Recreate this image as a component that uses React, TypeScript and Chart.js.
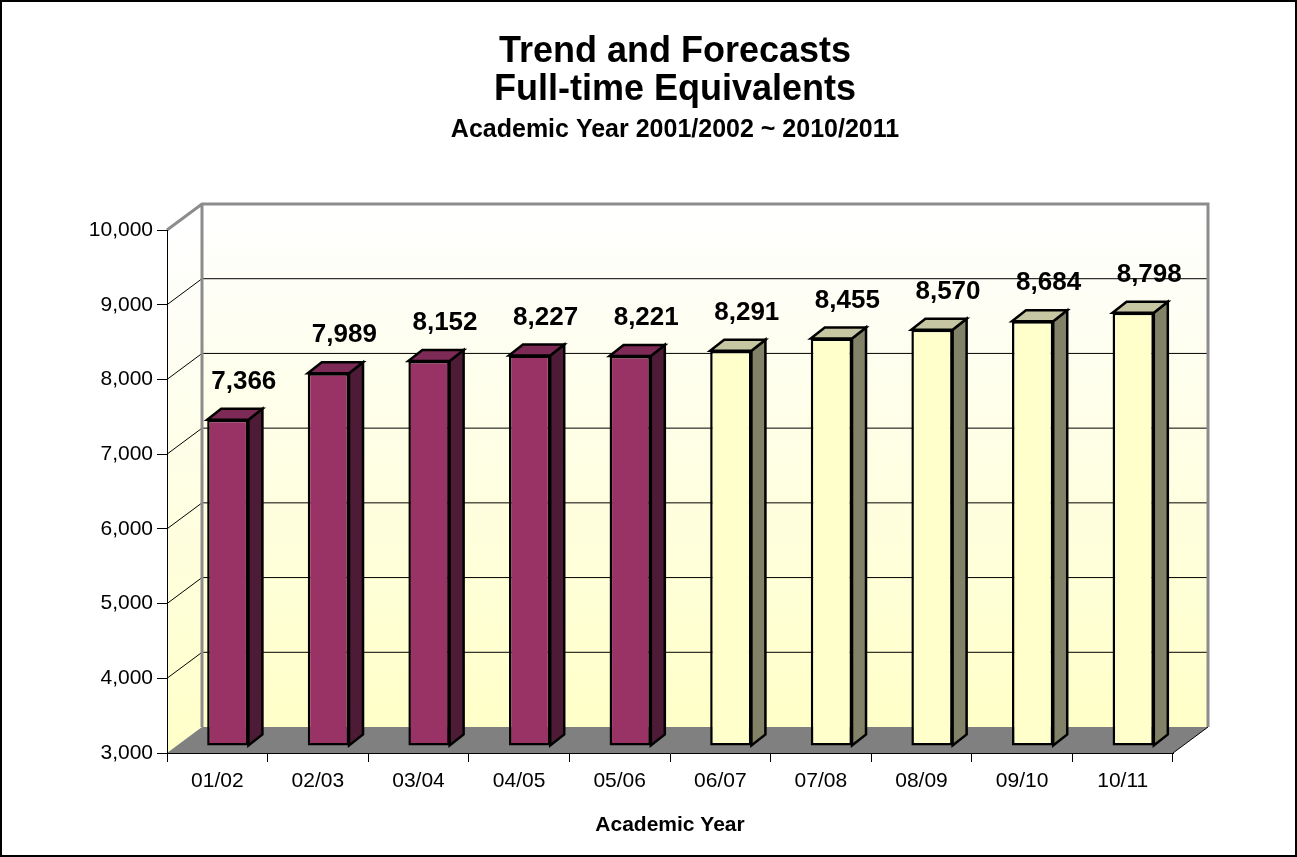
import { useEffect, useRef } from "react";
import { Chart, registerables } from "chart.js";

Chart.register(...registerables);

// ---- data ----
const categories = ["01/02", "02/03", "03/04", "04/05", "05/06", "06/07", "07/08", "08/09", "09/10", "10/11"];
const actualValues = [7366, 7989, 8152, 8227, 8221, null, null, null, null, null];
const forecastValues = [null, null, null, null, null, 8291, 8455, 8570, 8684, 8798];
const yTicks = [3000, 4000, 5000, 6000, 7000, 8000, 9000, 10000];
const titleLines = ["Trend and Forecasts", "Full-time Equivalents"];
const subtitleText = "Academic Year 2001/2002 ~ 2010/2011";
const xTitleText = "Academic Year";

// ---- styles ----
const FONT = '"Liberation Sans", Arial, Helvetica, sans-serif';
const WALL_DX = 35;
const WALL_DY = -26;
const BAR_DX = 10.5;
const BAR_DY = -7;
const DEPTH_X = 14;
const DEPTH_Y = -11;
const FRONT = ["#993366", "#FFFFCC"];
const SIDE = ["#4E1B37", "#828268"];
const TOP = ["#7D2A56", "#C6C6A2"];

const fmt = (v: number) => v.toLocaleString("en-US");

const excel3d = {
  id: "excel3d",
  beforeDraw(chart: any) {
    const { ctx, chartArea: a } = chart;
    const y = chart.scales.y;
    const L = a.left, R = a.right, T = a.top, B = a.bottom;
    const bl = L + WALL_DX, br = R + WALL_DX, bt = T + WALL_DY, bb = B + WALL_DY;
    ctx.save();
    ctx.fillStyle = "#FFFFFF";
    ctx.fillRect(0, 0, chart.width, chart.height);

    // back wall
    const g = ctx.createLinearGradient(0, bt, 0, bb);
    g.addColorStop(0, "#FFFFFF");
    g.addColorStop(0.2, "#FEFEF4");
    g.addColorStop(1, "#FFFFC8");
    ctx.fillStyle = g;
    ctx.fillRect(bl, bt, br - bl, bb - bt);

    // left wall
    const g2 = ctx.createLinearGradient(0, T, 0, B);
    g2.addColorStop(0, "#FFFFFF");
    g2.addColorStop(0.2, "#FEFEF4");
    g2.addColorStop(1, "#FFFFC8");
    ctx.fillStyle = g2;
    ctx.beginPath();
    ctx.moveTo(L, T);
    ctx.lineTo(bl, bt);
    ctx.lineTo(bl, bb);
    ctx.lineTo(L, B);
    ctx.closePath();
    ctx.fill();

    // floor
    ctx.fillStyle = "#808080";
    ctx.beginPath();
    ctx.moveTo(L, B);
    ctx.lineTo(bl, bb);
    ctx.lineTo(br, bb);
    ctx.lineTo(R, B);
    ctx.closePath();
    ctx.fill();

    // gridlines
    ctx.strokeStyle = "#000000";
    ctx.lineWidth = 1;
    for (const v of yTicks) {
      if (v <= y.min || v >= y.max) continue;
      const py = y.getPixelForValue(v);
      ctx.beginPath();
      ctx.moveTo(L, py);
      ctx.lineTo(bl, py + WALL_DY);
      ctx.lineTo(br, py + WALL_DY);
      ctx.stroke();
    }

    // wall borders
    ctx.strokeStyle = "#8C8C8C";
    ctx.lineWidth = 3;
    ctx.beginPath();
    ctx.moveTo(L, T);
    ctx.lineTo(bl, bt);
    ctx.lineTo(br, bt);
    ctx.lineTo(br, bb);
    ctx.moveTo(bl, bt);
    ctx.lineTo(bl, bb);
    ctx.stroke();

    // floor right edge
    ctx.strokeStyle = "#000000";
    ctx.lineWidth = 1;
    ctx.beginPath();
    ctx.moveTo(R, B);
    ctx.lineTo(br, bb);
    ctx.stroke();

    // titles
    ctx.fillStyle = "#000000";
    ctx.textAlign = "center";
    ctx.textBaseline = "alphabetic";
    const cx = 675;
    ctx.font = `bold 36px ${FONT}`;
    ctx.fillText(titleLines[0], cx, 62);
    ctx.fillText(titleLines[1], cx, 100);
    ctx.font = `bold 25px ${FONT}`;
    ctx.fillText(subtitleText, cx, 137);
    ctx.font = `bold 21px ${FONT}`;
    ctx.fillText(xTitleText, (L + R) / 2, 831);

    // outer frame
    ctx.strokeStyle = "#000000";
    ctx.lineWidth = 2;
    ctx.strokeRect(1, 1, chart.width - 2, chart.height - 2);
    ctx.restore();
  },
  beforeDatasetsDraw(chart: any) {
    chart.ctx.save();
    chart.ctx.translate(BAR_DX, BAR_DY);
  },
  afterDatasetsDraw(chart: any) {
    const ctx = chart.ctx;
    chart.data.datasets.forEach((ds: any, di: number) => {
      const meta = chart.getDatasetMeta(di);
      meta.data.forEach((el: any, j: number) => {
        if (ds.data[j] == null) return;
        const { x, y, base, width } = el.getProps(["x", "y", "base", "width"], true);
        const left = x - width / 2;
        const right = x + width / 2;
        ctx.lineWidth = 2.5;
        ctx.lineJoin = "miter";
        ctx.strokeStyle = "#000000";
        // side
        ctx.fillStyle = SIDE[di];
        ctx.beginPath();
        ctx.moveTo(right, y);
        ctx.lineTo(right + DEPTH_X, y + DEPTH_Y);
        ctx.lineTo(right + DEPTH_X, base + DEPTH_Y);
        ctx.lineTo(right, base);
        ctx.closePath();
        ctx.fill();
        ctx.stroke();
        // top
        ctx.fillStyle = TOP[di];
        ctx.beginPath();
        ctx.moveTo(left, y);
        ctx.lineTo(left + DEPTH_X, y + DEPTH_Y);
        ctx.lineTo(right + DEPTH_X, y + DEPTH_Y);
        ctx.lineTo(right, y);
        ctx.closePath();
        ctx.fill();
        ctx.stroke();
      });
    });
    ctx.restore();

    // data labels
    ctx.save();
    ctx.fillStyle = "#000000";
    ctx.font = `bold 26px ${FONT}`;
    ctx.textAlign = "center";
    ctx.textBaseline = "middle";
    chart.data.datasets.forEach((ds: any, di: number) => {
      const meta = chart.getDatasetMeta(di);
      meta.data.forEach((el: any, j: number) => {
        const v = ds.data[j];
        if (v == null) return;
        const { x, y } = el.getProps(["x", "y"], true);
        ctx.fillText(fmt(v), x + BAR_DX + 16, y - 45);
      });
    });
    ctx.restore();
  },
};

export default function App() {
  const ref = useRef<HTMLCanvasElement | null>(null);
  useEffect(() => {
    document.body.style.margin = "0";
    if (!ref.current) return;
    const barOpts = {
      borderColor: "#000000",
      borderWidth: 2.5,
      borderSkipped: false,
      grouped: false,
      barPercentage: 0.41,
      categoryPercentage: 1,
      base: 3000,
      clip: false,
    };
    const chart = new Chart(ref.current, {
      type: "bar",
      data: {
        labels: categories,
        datasets: [
          { label: "Actual", data: actualValues, backgroundColor: FRONT[0], ...barOpts } as any,
          { label: "Forecast", data: forecastValues, backgroundColor: FRONT[1], ...barOpts } as any,
        ],
      },
      options: {
        responsive: false,
        animation: false,
        devicePixelRatio: 1,
        layout: { padding: { left: 0, right: 124, top: 230, bottom: 0 } },
        plugins: {
          legend: { display: false },
          tooltip: { enabled: false },
          title: { display: false },
        },
        events: [],
        scales: {
          x: {
            type: "category",
            offset: true,
            afterFit: (s: any) => {
              s.height = 104;
            },
            grid: {
              offset: true,
              drawOnChartArea: false,
              drawTicks: true,
              tickLength: 9,
              color: "#000000",
            },
            border: { display: true, color: "#000000", width: 1 },
            ticks: {
              autoSkip: false,
              maxRotation: 0,
              minRotation: 0,
              color: "#000000",
              padding: 7,
              font: { family: FONT, size: 21 },
            },
          },
          y: {
            type: "linear",
            min: 3000,
            max: 10000,
            afterFit: (s: any) => {
              s.width = 167;
            },
            afterBuildTicks: (s: any) => {
              s.ticks = yTicks.map((v) => ({ value: v }));
            },
            grid: {
              drawOnChartArea: false,
              drawTicks: true,
              tickLength: 10,
              color: "#000000",
            },
            border: { display: true, color: "#000000", width: 1 },
            ticks: {
              color: "#000000",
              padding: 4,
              font: { family: FONT, size: 21 },
              callback: (v: any) => fmt(Number(v)),
            },
          },
        },
      } as any,
      plugins: [excel3d],
    });
    return () => chart.destroy();
  }, []);
  return (
    <canvas
      ref={ref}
      width={1297}
      height={857}
      style={{ display: "block", width: "1297px", height: "857px" }}
    />
  );
}
